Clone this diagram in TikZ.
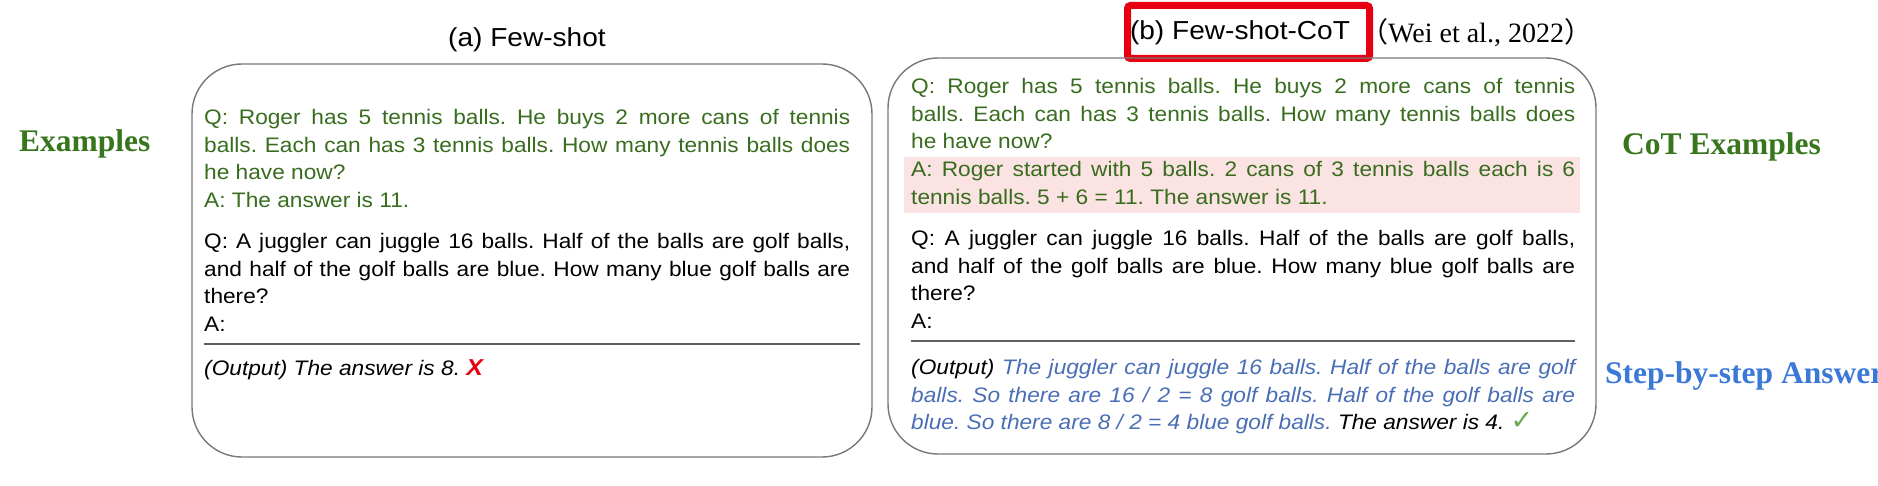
\documentclass[tikz,border=0pt]{standalone}
\usepackage{fontspec}
\setmainfont[FakeStretch=1.08]{Liberation Sans}
\newfontfamily\labelfont{Liberation Serif}
\newfontfamily\cjkfont{Noto Sans CJK SC}
\newfontfamily\symfont{DejaVu Sans}
\definecolor{exGreen}{RGB}{56,108,30}
\definecolor{labelGreen}{RGB}{56,118,29}
\definecolor{labelBlue}{RGB}{60,120,216}
\definecolor{stepBlue}{RGB}{74,110,182}
\definecolor{panelGray}{RGB}{120,120,120}
\definecolor{cotPink}{RGB}{252,227,227}
\definecolor{markRed}{RGB}{230,0,18}
\definecolor{tickGreen}{RGB}{106,168,79}
\frenchspacing
\newcommand{\bodyfont}{\fontsize{21}{27.6}\selectfont\tolerance=9999 }
\newcommand{\titlefont}{\fontsize{26}{30}\selectfont}
\newcommand{\sidefont}{\labelfont\bfseries\fontsize{31.5}{36}\selectfont}

\begin{document}
\begin{tikzpicture}[x=1pt, y=-1pt,
    panel/.style={draw=panelGray, line width=1.4pt, rounded corners=50pt},
    para/.style={anchor=base west, inner sep=0pt, align=justify, font=\bodyfont},
    paraA/.style={para, text width=646pt},
    paraB/.style={para, text width=664pt},
    splitrule/.style={draw=panelGray!80!black, line width=2pt},
    sidelabel/.style={anchor=base west, inner sep=0pt, font=\sidefont}]
  \useasboundingbox (0,0) rectangle (1878,486);
  \clip (0,0) rectangle (1878,486);

  % titles
  \node[anchor=base, inner sep=0pt, font=\titlefont] (titleA) at (527,47) {(a) Few-shot};
  \node[anchor=base, inner sep=0pt, font=\titlefont] (titleB) at (1240,40) {(b) Few-shot-CoT};
  \draw[markRed, line width=7pt, rounded corners=3pt] (1127.5,5.5) rectangle (1369.5,58.5);
  \node[anchor=base west, inner sep=0pt, font=\labelfont\fontsize{28}{32}\selectfont] (cite) at (1360,43)
    {{\cjkfont （}Wei et al., 2022{\cjkfont ）}};

  % panels
  \draw[panel] (192,64) rectangle (872,457);
  \draw[panel] (888,58) rectangle (1596,454);
  \fill[cotPink] (904,157) rectangle (1580,213);

  % (a) few-shot
  \node[paraA, text=exGreen] (qA1) at (204,124.5) {Q: Roger has 5 tennis balls. He buys 2 more cans of tennis\linebreak
    balls. Each can has 3 tennis balls. How many tennis balls does\linebreak he have now?\\A: The answer is 11.};
  \node[paraA] (qA2) at (204,248.5) {Q: A juggler can juggle 16 balls. Half of the balls are golf balls,\linebreak
    and half of the golf balls are blue. How many blue golf balls are\linebreak there?\\A:};
  \coordinate (ruleAL) at (204,344);
  \coordinate (ruleAR) at (860,344);
  \draw[splitrule] (ruleAL) -- (ruleAR);
  \node[paraA] (outA) at (204,375.5) {\itshape (Output) The answer is 8. {\color{markRed}\bfseries\fontsize{23}{27}\selectfont X}};

  % (b) few-shot-cot
  \node[paraB, text=exGreen] (qB1) at (911,93.5) {Q: Roger has 5 tennis balls. He buys 2 more cans of tennis\linebreak
    balls. Each can has 3 tennis balls. How many tennis balls does\linebreak he have now?};
  \node[paraB, text=exGreen] (aB1) at (911,176.5) {A: Roger started with 5 balls. 2 cans of 3 tennis balls each is 6\linebreak
    tennis balls. 5 + 6 = 11. The answer is 11.};
  \node[paraB] (qB2) at (911,245.5) {Q: A juggler can juggle 16 balls. Half of the balls are golf balls,\linebreak
    and half of the golf balls are blue. How many blue golf balls are\linebreak there?\\A:};
  \coordinate (ruleBL) at (911,341);
  \coordinate (ruleBR) at (1575,341);
  \draw[splitrule] (ruleBL) -- (ruleBR);
  \node[paraB] (outB) at (911,374.5) {\itshape (Output) {\color{stepBlue}The juggler can juggle 16 balls. Half of the balls are golf\linebreak
    balls. So there are 16 / 2 = 8 golf balls. Half of the golf balls are\linebreak
    blue. So there are 8 / 2 = 4 blue golf balls.} The answer is 4. {\symfont\upshape\color{tickGreen}\fontsize{27}{27}\selectfont ✓}};

  % side labels
  \node[sidelabel, text=labelGreen] (lblEx) at (19,152) {Examples};
  \node[sidelabel, text=labelGreen] (lblCoT) at (1622,155) {CoT Examples};
  \node[sidelabel, text=labelBlue] (lblStep) at (1605,383) {Step-by-step Answer};
\end{tikzpicture}
\end{document}
